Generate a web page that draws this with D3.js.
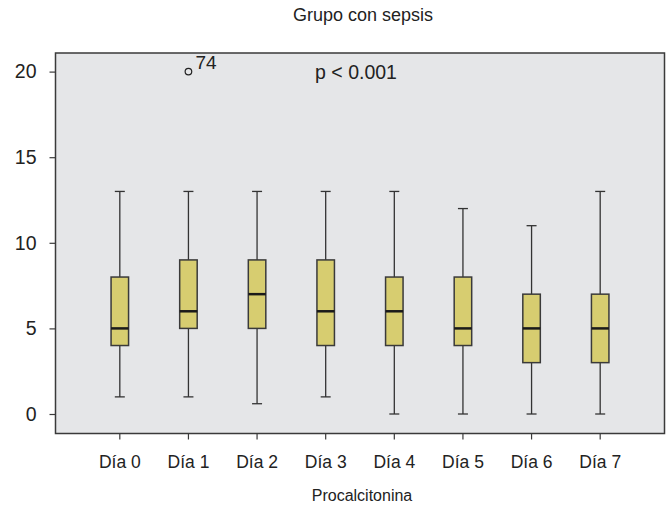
<!DOCTYPE html>
<html>
<head>
<meta charset="utf-8">
<script src="https://cdn.jsdelivr.net/npm/d3@7"></script>
<style>
  body { margin: 0; background: #fff; }
  svg { display: block; font-family: "Liberation Sans", Arial, sans-serif; }
</style>
</head>
<body>
<div id="chart"></div>
<script>
const days = ["Día 0", "Día 1", "Día 2", "Día 3", "Día 4", "Día 5", "Día 6", "Día 7"]
const whiskerLow = [1, 1, 0.6, 1, 0, 0, 0, 0]
const q1 = [4, 5, 5, 4, 4, 4, 3, 3]
const median = [5, 6, 7, 6, 6, 5, 5, 5]
const q3 = [8, 9, 9, 9, 8, 8, 7, 7]
const whiskerHigh = [13, 13, 13, 13, 13, 12, 11, 13]
const outliers = [{ day: "Día 1", value: 20, label: "74" }]
const yTicks = [0, 5, 10, 15, 20]

const width = 666, height = 508
const plot = { left: 55.5, right: 664.5, top: 53, bottom: 433.5 }

const svg = d3.select("#chart").append("svg")
  .attr("width", width)
  .attr("height", height)

const x = d3.scaleBand()
  .domain(days)
  .range([plot.left + 30, plot.right - 30])
  .paddingInner(0)
  .paddingOuter(0)

const y = d3.scaleLinear()
  .domain([0, 20])
  .range([414, 71.6])

svg.append("rect")
  .attr("x", plot.left).attr("y", plot.top)
  .attr("width", plot.right - plot.left).attr("height", plot.bottom - plot.top)
  .attr("fill", "#e5e6e8")
  .attr("stroke", "#3a3a3a")
  .attr("stroke-width", 1.5)

// axes
const yAxis = svg.append("g")
  .attr("transform", `translate(${plot.left},0)`)
  .call(d3.axisLeft(y).tickValues(yTicks).tickSize(6).tickPadding(13))
yAxis.select(".domain").remove()
yAxis.selectAll("line").attr("stroke", "#3a3a3a").attr("stroke-width", 1.2)
yAxis.selectAll("text").attr("font-size", 19.5).attr("fill", "#222").attr("font-family", null)

const xAxis = svg.append("g")
  .attr("transform", `translate(0,${plot.bottom})`)
  .call(d3.axisBottom(x).tickSize(6).tickPadding(16))
xAxis.select(".domain").remove()
xAxis.selectAll("line").attr("stroke", "#3a3a3a").attr("stroke-width", 1.2)
xAxis.selectAll("text").attr("font-size", 17.5).attr("fill", "#222").attr("font-family", null)

// boxes
const boxW = 17.5, capW = 10
const data = days.map((d, i) => ({
  day: d, lo: whiskerLow[i], q1: q1[i], med: median[i], q3: q3[i], hi: whiskerHigh[i]
}))
const cx = d => x(d) + x.bandwidth() / 2

const g = svg.append("g")
const box = g.selectAll("g.box").data(data).join("g").attr("class", "box")

box.append("line")
  .attr("x1", d => cx(d.day)).attr("x2", d => cx(d.day))
  .attr("y1", d => y(d.hi)).attr("y2", d => y(d.q3))
  .attr("stroke", "#333").attr("stroke-width", 1.3)
box.append("line")
  .attr("x1", d => cx(d.day)).attr("x2", d => cx(d.day))
  .attr("y1", d => y(d.q1)).attr("y2", d => y(d.lo))
  .attr("stroke", "#333").attr("stroke-width", 1.3)
box.append("line")
  .attr("x1", d => cx(d.day) - capW / 2).attr("x2", d => cx(d.day) + capW / 2)
  .attr("y1", d => y(d.hi)).attr("y2", d => y(d.hi))
  .attr("stroke", "#333").attr("stroke-width", 1.3)
box.append("line")
  .attr("x1", d => cx(d.day) - capW / 2).attr("x2", d => cx(d.day) + capW / 2)
  .attr("y1", d => y(d.lo)).attr("y2", d => y(d.lo))
  .attr("stroke", "#333").attr("stroke-width", 1.3)
box.append("rect")
  .attr("x", d => cx(d.day) - boxW / 2)
  .attr("y", d => y(d.q3))
  .attr("width", boxW)
  .attr("height", d => y(d.q1) - y(d.q3))
  .attr("fill", "#d7cd70")
  .attr("stroke", "#3a3a3a")
  .attr("stroke-width", 1.5)
box.append("line")
  .attr("x1", d => cx(d.day) - boxW / 2).attr("x2", d => cx(d.day) + boxW / 2)
  .attr("y1", d => y(d.med)).attr("y2", d => y(d.med))
  .attr("stroke", "#1a1a1a").attr("stroke-width", 2.5)

// outliers
const out = g.selectAll("g.out").data(outliers).join("g").attr("class", "out")
out.append("circle")
  .attr("cx", d => cx(d.day)).attr("cy", d => y(d.value))
  .attr("r", 3.3)
  .attr("fill", "none").attr("stroke", "#222").attr("stroke-width", 1.2)
out.append("text")
  .attr("x", d => cx(d.day) + 7).attr("y", d => y(d.value) - 3)
  .attr("font-size", 19).attr("fill", "#222")
  .text(d => d.label)

svg.append("text")
  .attr("x", 356).attr("y", 79)
  .attr("text-anchor", "middle")
  .attr("font-size", 19.5).attr("fill", "#222")
  .text("p < 0.001")

svg.append("text")
  .attr("x", 363).attr("y", 21)
  .attr("text-anchor", "middle")
  .attr("font-size", 18).attr("fill", "#222")
  .text("Grupo con sepsis")

svg.append("text")
  .attr("x", 362).attr("y", 501)
  .attr("text-anchor", "middle")
  .attr("font-size", 16).attr("fill", "#222")
  .text("Procalcitonina")
</script>
</body>
</html>
